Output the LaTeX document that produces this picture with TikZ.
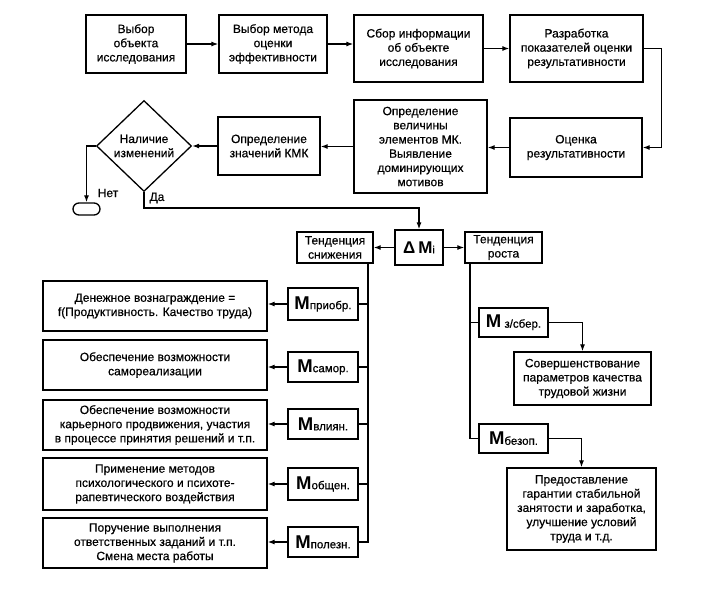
\documentclass[tikz,border=0pt]{standalone}
\usepackage{fontspec}
\setmainfont{Liberation Sans}[UprightFeatures={FakeBold=0.5}]
\usetikzlibrary{shapes.geometric,arrows.meta,calc}
\newcommand{\Mlab}[1]{{\fontsize{18.5}{17}\selectfont\bfseries M}{\fontsize{11.5}{12}\selectfont #1}}
\begin{document}
\begin{tikzpicture}[x=1pt,y=-1pt,
  every node/.style={font=\fontsize{12}{14.2}\selectfont, align=center, inner sep=0pt},
  box/.style={draw, line width=1.3pt},
  ar/.style={-{Latex[length=7pt,width=5pt]}, line width=1.2pt},
  ln/.style={line width=1.2pt},
  mbox/.style={box, minimum width=70pt, minimum height=30pt},
  lbox/.style={box, minimum width=224pt, minimum height=50pt}
]
\fill[white] (0,0) rectangle (711,598);
\useasboundingbox (0,0) rectangle (711,598);

% Row 1
\node[box, minimum width=100pt, minimum height=58pt] (b1) at (136,44) {Выбор\\объекта\\исследования};
\node[box, minimum width=108pt, minimum height=58pt] (b2) at (273,44) {Выбор метода\\оценки\\эффективности};
\node[box, minimum width=129pt, minimum height=67pt] (b3) at (418.5,48.5) {Сбор информации\\об объекте\\исследования};
\node[box, minimum width=133pt, minimum height=67pt] (b4) at (576.5,48.5) {Разработка\\показателей оценки\\результативности};

\draw[ar] (b1.east) -- (b2.west);
\draw[ar] (b2.east) -- (b2.east -| b3.west);
\draw[ar] (b3.east) -- (b4.west);

% Row 2
\node[box, minimum width=132pt, minimum height=59pt] (oc) at (576,147.5) {Оценка\\результативности};
\node[box, minimum width=133pt, minimum height=93pt] (opv) at (420.5,146.5) {Определение\\величины\\элементов МК.\\Выявление\\доминирующих\\мотивов};
\node[box, minimum width=102pt, minimum height=58pt] (kmk) at (269,146) {Определение\\значений КМК};
\node[box, diamond, minimum width=95pt, minimum height=91pt] (dia) at (144,146) {Наличие\\изменений};
\node[box, rounded corners=6pt, minimum width=27pt, minimum height=12pt] (term) at (86.5,209) {};

\draw[ar] (b4.east) -- ++(18,0) |- (oc.east);
\draw[ar] (oc.west) -- (oc.west -| opv.east);
\draw[ar] (opv.west) -- (opv.west -| kmk.east);
\draw[ar] (kmk.west) -- (dia.east);
\draw[ar] (dia.west) -| (term.north);
\node (net) at (108,193) {Нет};
\node (da) at (157,198) {Да};

% Row 3
\node[box, minimum width=76pt, minimum height=31pt] (sn) at (335,247.5) {Тенденция\\снижения};
\node[box, minimum width=48pt, minimum height=35pt] (dm) at (419,247.5) {{\fontsize{17}{16}\selectfont\bfseries Δ\,M}{\fontsize{10.5}{12}\selectfont i}};
\node[box, minimum width=77pt, minimum height=31pt] (ro) at (503.5,247.5) {Тенденция\\роста};

\coordinate (yes) at (419,208);
\draw[ar] (dia.south) |- (yes) -- (dm.north);
\draw[ar] (dm.west) -- (sn.east);
\draw[ar] (dm.east) -- (ro.west);

% Left branch
\node[mbox, minimum height=32pt] (mpr) at (323,304) {\Mlab{приобр.}};
\node[mbox] (msa) at (323,367) {\Mlab{самор.}};
\node[mbox] (mvl) at (323,424) {\Mlab{влиян.}};
\node[mbox, minimum height=32pt] (mob) at (323,484) {\Mlab{общен.}};
\node[mbox] (mpo) at (323,542) {\Mlab{полезн.}};

\node[lbox] (ta) at (155,306) {Денежное вознаграждение =\\f(Продуктивность. Качество труда)};
\node[lbox] (tb) at (155,365) {Обеспечение возможности\\самореализации};
\node[lbox] (tc) at (155,425) {Обеспечение возможности\\карьерного продвижения, участия\\в процессе принятия решений и т.п.};
\node[lbox, minimum height=52pt] (td) at (155,484) {Применение методов\\психологического и психоте-\\рапевтического воздействия};
\node[lbox] (te) at (155,543) {Поручение выполнения\\ответственных заданий и т.п.\\Смена места работы};

\coordinate (vL) at (368,542);
\draw[ln] (sn.south -| vL) -- (vL) -- (mpo.east);
\foreach \m in {mpr,msa,mvl,mob} \draw[ln] (vL |- \m.east) -- (\m.east);

\draw[ar] (mpr.west) -- (mpr.west -| ta.east);
\draw[ar] (msa.west) -- (msa.west -| tb.east);
\draw[ar] (mvl.west) -- (mvl.west -| tc.east);
\draw[ar] (mob.west) -- (mob.west -| td.east);
\draw[ar] (mpo.west) -- (mpo.west -| te.east);

% Right branch
\node[box, minimum width=69pt, minimum height=29pt] (mz) at (513.5,322.5) {\Mlab{\ з/сбер.}};
\node[box, minimum width=69pt, minimum height=29pt] (mb) at (513.5,438.5) {\Mlab{безоп.}};
\node[box, minimum width=137pt, minimum height=53pt] (sov) at (582.5,378.5) {Совершенствование\\параметров качества\\трудовой жизни};
\node[box, minimum width=149pt, minimum height=82pt] (pred) at (581.5,509) {Предоставление\\гарантии стабильной\\занятости и заработка,\\улучшение условий\\труда и т.д.};

\coordinate (vR) at (470,438.5);
\draw[ln] (ro.south -| vR) -- (vR) -- (mb.west);
\draw[ln] (vR |- mz.west) -- (mz.west);
\draw[ar] (mz.east) -| (sov.north);
\draw[ar] (mb.east) -| (pred.north);
\end{tikzpicture}
\end{document}
